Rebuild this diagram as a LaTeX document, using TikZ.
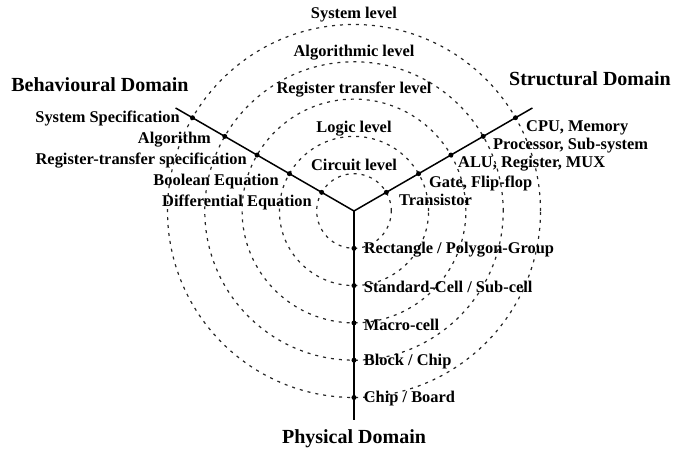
\documentclass[tikz,border=0pt]{standalone}
\usepackage{fontspec}
\setmainfont{Liberation Serif}
\usetikzlibrary{positioning}

\begin{document}
\begin{tikzpicture}[x=1pt, y=1pt,
        lbl/.style={font=\fontsize{16.4}{18}\selectfont\bfseries, inner sep=0pt},
        domname/.style={font=\fontsize{20}{22}\selectfont\bfseries, inner sep=0pt},
        dot/.style={circle, fill, inner sep=0pt, minimum size=5pt},
        ring/.style={dash pattern=on 3pt off 5pt, line width=1.2pt, black!85},
        arm/.style={line width=1.5pt}]
    \useasboundingbox (-354,-243) rectangle (324,211);

    \coordinate (o) at (0, 0);
    \coordinate (beh) at (150:206);
    \coordinate (str) at (30:206);
    \coordinate (phy) at (270:209);

    % abstraction levels
    \foreach \k in {1,...,5}
        \draw[ring] (o) circle[radius=37.3*\k];

    \draw[arm] (o) -- (beh);
    \draw[arm] (o) -- (str);
    \draw[arm] (o) -- (phy);

    \foreach \k in {1,...,5} {
        \node[dot] (b\k) at (150:{37.3*\k}) {};
        \node[dot] (s\k) at (30:{37.3*\k}) {};
        \node[dot] (p\k) at (270:{37.3*\k}) {};
    }

    \node[lbl] (circuit) at (0, 46) {Circuit level};
    \node[lbl] (logic) at (0, 82) {Logic level};
    \node[lbl] (rtl) at (0, 121) {Register transfer level};
    \node[lbl] (algo) at (0, 158) {Algorithmic level};
    \node[lbl] (system) at (0, 196) {System level};

    \node[domname] (behdom) at (-254, 126) {Behavioural Domain};
    \node[domname] (strdom) at (236, 132) {Structural Domain};
    \node[domname] (phydom) at (0, -228) {Physical Domain};

    % behavioural
    \node[lbl, anchor=east] (bl5) at (-174, 92) {System Specification};
    \node[lbl, anchor=east] (bl4) at (-143, 71) {Algorithm};
    \node[lbl, anchor=east] (bl3) at (-107, 50) {Register-transfer specification};
    \node[lbl, anchor=east] (bl2) at (-75, 29) {Boolean Equation};
    \node[lbl, anchor=east] (bl1) at (-42, 9) {Differential Equation};

    % structural
    \node[lbl, anchor=west] (sl5) at (172, 83) {CPU, Memory};
    \node[lbl, anchor=west] (sl4) at (139, 65) {Processor, Sub-system};
    \node[lbl, anchor=west] (sl3) at (104, 47) {ALU, Register, MUX};
    \node[lbl, anchor=west] (sl2) at (75, 28) {Gate, Flip-flop};
    \node[lbl, anchor=west] (sl1) at (45, 11) {Transistor};

    % physical
    \node[lbl, right=7pt of p1, yshift=-1.5pt] (pl1) {Rectangle / Polygon-Group};
    \node[lbl, right=7pt of p2, yshift=-1.5pt] (pl2) {Standard-Cell / Sub-cell};
    \node[lbl, right=7pt of p3, yshift=-1.5pt] (pl3) {Macro-cell};
    \node[lbl, right=7pt of p4, yshift=-1.5pt] (pl4) {Block / Chip};
    \node[lbl, right=7pt of p5, yshift=-1.5pt] (pl5) {Chip / Board};
\end{tikzpicture}
\end{document}
